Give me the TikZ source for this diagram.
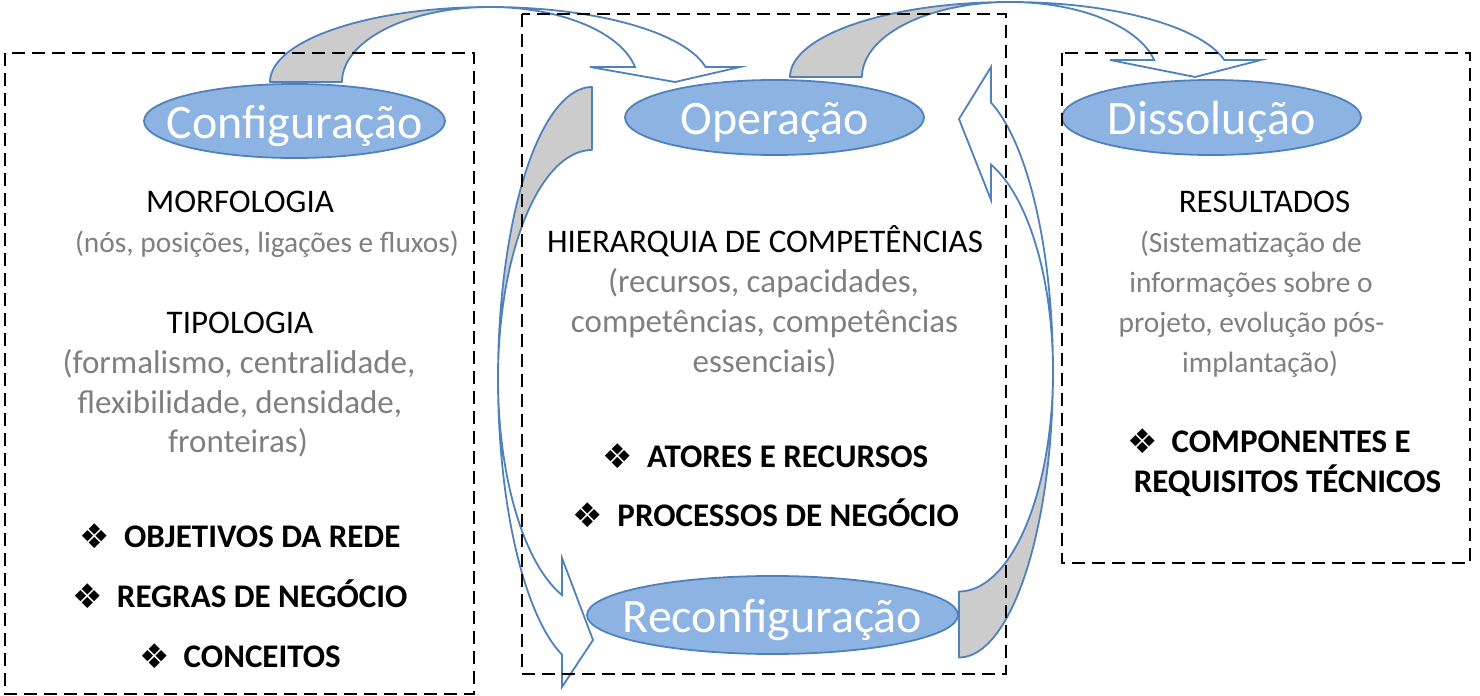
\documentclass[tikz,border=0pt]{standalone}
\usepackage{fontspec}
\setmainfont{Carlito}
\newfontfamily\dejavu{DejaVu Sans}
\usetikzlibrary{shapes.geometric}
\definecolor{ellfill}{HTML}{8DB3E2}
\definecolor{ellline}{HTML}{4F81BD}
\definecolor{arrline}{HTML}{4F81BD}
\definecolor{bandgray}{HTML}{CCCCCC}
\definecolor{txtgray}{HTML}{7F7F7F}
\newcommand\itembul{\raisebox{-0.5pt}{\dejavu\fontsize{17}{18}\selectfont ❖}\hspace{7pt}}
\begin{document}
\begin{tikzpicture}[x=0.5pt,y=-0.5pt,
  box/.style={draw=black, line width=1pt, dash pattern=on 6.5pt off 3.5pt},
  phase/.style={ellipse, draw=ellline, line width=0.9pt, fill=ellfill, text=white, inner sep=0pt,
     font=\fontsize{24}{28}\selectfont, text height=17pt, text depth=0pt},
  body/.style={anchor=base, inner sep=0pt, font=\fontsize{16.5}{20}\selectfont},
  note/.style={body, text=txtgray},
  smallnote/.style={note, font=\fontsize{14.7}{18}\selectfont},
  item/.style={body, font=\fontsize{16.5}{20}\selectfont\bfseries},
  band/.style={draw=arrline, line width=0.9pt, fill=bandgray, line join=round},
  front/.style={draw=arrline, line width=0.9pt, fill=white, line join=miter}
]
\useasboundingbox (0,0) rectangle (1480,696);

% arrow Configuracao -> Operacao
\path[band] plot[domain=180:270, samples=40] ({490+220*cos(\x)},{82+75*sin(\x)})
  -- plot[domain=270:180, samples=40] ({490+148*cos(\x)},{82+75*sin(\x)}) -- cycle;
\path[front] plot[domain=270:348.46, samples=40] ({490+220*cos(\x)},{82+75*sin(\x)})
  -- (740,67) -- (675,82) -- (590,67)
  -- plot[domain=348.46:270, samples=40] ({490+148*cos(\x)},{82+75*sin(\x)}) -- cycle;

% arrow Operacao -> Dissolucao
\path[band] plot[domain=180:270, samples=40] ({1010+220*cos(\x)},{77+75*sin(\x)})
  -- plot[domain=270:180, samples=40] ({1010+148*cos(\x)},{77+75*sin(\x)}) -- cycle;
\path[front] plot[domain=270:346.9, samples=40] ({1010+220*cos(\x)},{77+75*sin(\x)})
  -- (1261,60) -- (1195,77) -- (1110,60)
  -- plot[domain=346.9:270, samples=40] ({1010+148*cos(\x)},{77+75*sin(\x)}) -- cycle;

% arrow Operacao -> Reconfiguracao (left)
\path[band] plot[domain=270:180, samples=50] ({592+94*cos(\x)},{378.5+291.5*sin(\x)})
  -- plot[domain=180:270, samples=50] ({592+94*cos(\x)},{378.5+228.5*sin(\x)}) -- cycle;
\path[front] plot[domain=180:108.6, samples=50] ({592+94*cos(\x)},{378.5+291.5*sin(\x)})
  -- (562,687) -- (593,640) -- (562,558)
  -- plot[domain=108.6:180, samples=50] ({592+94*cos(\x)},{378.5+228.5*sin(\x)}) -- cycle;

% arrow Reconfiguracao -> Operacao (right)
\path[band] plot[domain=90:0, samples=50] ({959+94*cos(\x)},{371.5+286*sin(\x)})
  -- plot[domain=0:90, samples=50] ({959+94*cos(\x)},{371.5+220*sin(\x)}) -- cycle;
\path[front] plot[domain=0:-70.1, samples=50] ({959+94*cos(\x)},{371.5+286*sin(\x)})
  -- (991,67) -- (959,119) -- (991,200)
  -- plot[domain=-70.1:0, samples=50] ({959+94*cos(\x)},{371.5+220*sin(\x)}) -- cycle;

% phases
\node[phase, minimum width=150.5pt, minimum height=37pt] (config) at (294.5,121) {\makebox[0pt]{Configuração}};
\node[phase, minimum width=149.5pt, minimum height=37.5pt] (oper) at (774.5,117.5) {\makebox[0pt]{Operação}};
\node[phase, minimum width=149.5pt, minimum height=37.5pt] (dissol) at (1211.5,117.5) {\makebox[0pt]{Dissolução}};
\node[phase, minimum width=185.5pt, minimum height=39pt] (reconf) at (772.5,615) {\makebox[0pt]{Reconfiguração}};

% dashed frames
\draw[box] (5,53) rectangle (474,694);
\draw[box] (522,14) rectangle (1006,674);
\draw[box] (1062,53) rectangle (1470,563);

% left column
\node[body] (morf) at (240,212.5) {MORFOLOGIA};
\node[smallnote] (morfd) at (267,252.5) {(nós, posições, ligações e fluxos)};
\node[body] (tipo) at (240,333) {TIPOLOGIA};
\node[note] (tipod1) at (239,373) {(formalismo, centralidade,};
\node[note] (tipod2) at (240,413) {flexibilidade, densidade,};
\node[note] (tipod3) at (238,452) {fronteiras)};
\node[item] (obj) at (240,547.5) {\itembul OBJETIVOS DA REDE};
\node[item] (regras) at (240,607.5) {\itembul REGRAS DE NEGÓCIO};
\node[item] (conc) at (240,667.5) {\itembul CONCEITOS};

% middle column
\node[body] (hier) at (765,252.5) {HIERARQUIA DE COMPETÊNCIAS};
\node[note] (hier1) at (763.5,292.5) {(recursos, capacidades,};
\node[note] (hier2) at (764.5,332.5) {competências, competências};
\node[note] (hier3) at (764.5,372.5) {essenciais)};
\node[item] (atores) at (765.5,467.5) {\itembul ATORES E RECURSOS};
\node[item] (proc) at (766,526.5) {\itembul PROCESSOS DE NEGÓCIO};

% right column
\node[body] (res) at (1264.5,212.5) {RESULTADOS};
\node[smallnote] (res1) at (1251,252.5) {(Sistematização de};
\node[smallnote] (res2) at (1251,292.5) {informações sobre o};
\node[smallnote] (res3) at (1251.5,332.5) {projeto, evolução pós-};
\node[smallnote] (res4) at (1260,372.5) {implantação)};
\node[item] (comp1) at (1269,452.5) {\itembul COMPONENTES E};
\node[item] (comp2) at (1287.5,492.5) {REQUISITOS TÉCNICOS};
\end{tikzpicture}
\end{document}
